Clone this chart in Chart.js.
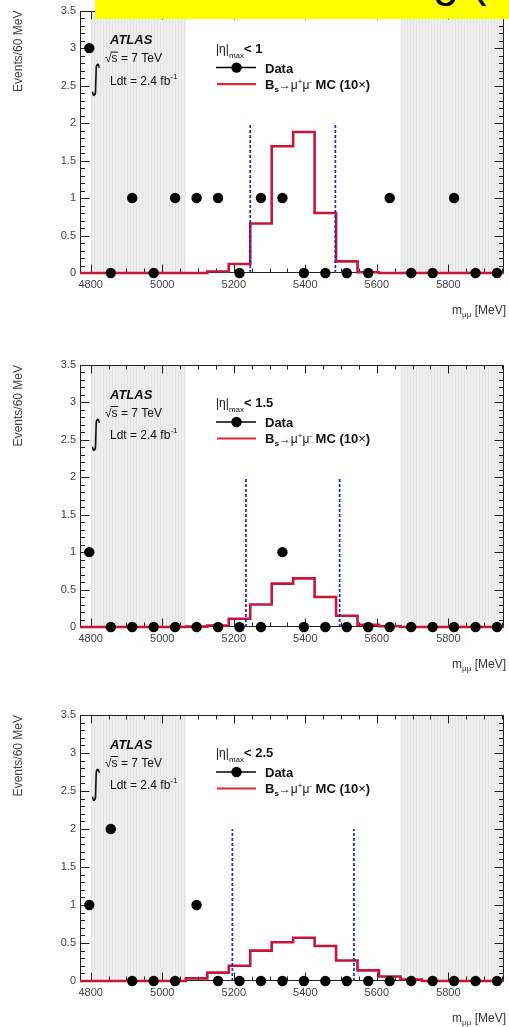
<!DOCTYPE html>
<html><head><meta charset="utf-8">
<script src="https://cdn.jsdelivr.net/npm/chart.js@4.4.1/dist/chart.umd.min.js"></script>
<style>
html,body{margin:0;padding:0;background:#fff;width:509px;height:1027px;overflow:hidden;position:relative}
.pane{position:absolute;left:0;width:509px}
#banner{position:absolute;left:95px;top:0;width:414px;height:19px;background:#ffff00;overflow:hidden;z-index:5}
#banner span{position:absolute;left:338px;top:-43px;font:46px 'Liberation Sans',Arial,sans-serif;line-height:46px;color:#000;white-space:pre}
</style></head><body>
<div id="banner"><span>g (</span></div>
<div class="pane" style="top:0;height:319px"><canvas id="c1"></canvas></div>
<div class="pane" style="top:340px;height:333px"><canvas id="c2"></canvas></div>
<div class="pane" style="top:690px;height:337px"><canvas id="c3"></canvas></div>
<script>
// ---- data ----
const binCenters = [4796,4856,4916,4976,5036,5096,5156,5216,5276,5336,5396,5456,5516,5576,5636,5696,5756,5816,5876,5936];
const binEdges   = [4766,4826,4886,4946,5006,5066,5126,5186,5246,5306,5366,5426,5486,5546,5606,5666,5726,5786,5846,5906,5966];
const data1 = [3,0,1,0,1,1,1,0,1,1,0,0,0,0,1,0,0,1,0,0];
const data2 = [1,0,0,0,0,0,0,0,0,1,0,0,0,0,0,0,0,0,0,0];
const data3 = [1,2,0,0,0,1,0,0,0,0,0,0,0,0,0,0,0,0,0,0];
const mc1 = [0,0,0,0,0,0,0.02,0.12,0.66,1.69,1.88,0.80,0.155,0.01,0,0,0,0,0,0];
const mc2 = [0,0,0,0,0,0.005,0.02,0.11,0.30,0.58,0.65,0.40,0.15,0.03,0.01,0,0,0,0,0];
const mc3 = [0,0,0,0,0,0.035,0.11,0.20,0.40,0.51,0.57,0.46,0.27,0.14,0.06,0.02,0,0,0,0];
const cuts1 = [5246,5484];
const cuts2 = [5234,5496];
const cuts3 = [5196,5536];
const cutHeight = 2;
const sidebands = [[4800,5066],[5666,5966]];
const etaCuts = ['1','1.5','2.5'];
const xTickValues = [4800,5000,5200,5400,5600,5800];
const yTickValues = [0,0.5,1,1.5,2,2.5,3,3.5];
const xRange = [4770,5955];
const yRange = [0,3.5];

const F = "'Liberation Sans', Arial, Helvetica, sans-serif";

function histPoints(vals){
  const pts = [];
  vals.forEach((v,i)=>{ pts.push({x:binEdges[i],y:v}); pts.push({x:binEdges[i+1],y:v}); });
  return pts;
}
function runs(ctx, x, y, parts, align){
  let w = 0;
  for (const p of parts){ ctx.font = p.f; w += ctx.measureText(p.t).width; }
  let cx = align === 'right' ? x - w : x;
  for (const p of parts){ ctx.font = p.f; ctx.fillText(p.t, cx, y + (p.dy||0)); cx += ctx.measureText(p.t).width; }
  return cx;
}

const panelPlugin = {
  id: 'panel',
  beforeDatasetsDraw(chart){
    const {ctx, chartArea:{left,right,top,bottom}, scales:{x,y}} = chart;
    ctx.save();
    ctx.beginPath(); ctx.rect(left, top, right-left, bottom-top); ctx.clip();
    for (const [a,b] of sidebands){
      const xa = x.getPixelForValue(a), xb = x.getPixelForValue(b);
      ctx.fillStyle = '#eeeeee'; ctx.fillRect(xa, top, xb-xa, bottom-top);
      ctx.strokeStyle = '#e4e4e4'; ctx.lineWidth = 1;
      ctx.beginPath();
      for (let px = Math.floor(xa)+1.5; px < xb; px += 3){ ctx.moveTo(px, top); ctx.lineTo(px, bottom); }
      ctx.stroke();
    }
    ctx.restore();
    ctx.save();
    ctx.strokeStyle = '#222'; ctx.lineWidth = 1;
    const L = Math.round(left)+0.5, R = Math.round(right)-0.5, T = Math.round(top)+0.5, B = Math.round(bottom)-0.5;
    ctx.strokeRect(L, T, R-L, B-T);
    ctx.beginPath();
    for (let k = 0; k <= 35; k++){
      const py = Math.round(y.getPixelForValue(k/10))+0.5;
      const len = (k % 5 === 0) ? 9 : 4.5;
      ctx.moveTo(L, py); ctx.lineTo(L+len, py);
      ctx.moveTo(R, py); ctx.lineTo(R-len, py);
    }
    for (let k = 0; k <= 30; k++){
      const v = 4750 + 50*k;
      if (v < xRange[0] || v > xRange[1]) continue;
      const px = Math.round(x.getPixelForValue(v))+0.5;
      const len = (v % 200 === 0) ? 8 : 4;
      ctx.moveTo(px, B); ctx.lineTo(px, B-len);
      ctx.moveTo(px, T); ctx.lineTo(px, T+len);
    }
    ctx.stroke();
    ctx.restore();
  },
  afterDatasetsDraw(chart, args, opts){
    const {ctx, chartArea:{top,bottom}} = chart;
    ctx.save();
    ctx.fillStyle = '#111';
    ctx.textBaseline = 'alphabetic';
    ctx.font = `italic bold 13px ${F}`;
    ctx.fillText('ATLAS', 110, top+33.5);
    ctx.font = `12px ${F}`;
    const rw = ctx.measureText('\u221A').width;
    ctx.fillText('\u221A', 105, top+51.5);
    ctx.fillText('s = 7 TeV', 105+rw, top+51.5);
    const sw = ctx.measureText('s').width;
    ctx.strokeStyle = '#111'; ctx.lineWidth = 1;
    ctx.beginPath(); ctx.moveTo(105+rw-1, top+41.5); ctx.lineTo(105+rw+sw+0.5, top+41.5); ctx.stroke();
    ctx.save();
    ctx.translate(96, top+70);
    ctx.scale(1, 1.7);
    ctx.font = `20px 'DejaVu Sans', sans-serif`;
    ctx.textAlign = 'center'; ctx.textBaseline = 'middle';
    ctx.fillText('\u222B', 0, 0);
    ctx.restore();
    runs(ctx, 110, top+74, [
      {t:'Ldt = 2.4 fb', f:`12px ${F}`},
      {t:'-1', f:`8px ${F}`, dy:-6}
    ]);
    runs(ctx, 216, top+42, [
      {t:'|\u03B7|', f:`12px ${F}`},
      {t:'max', f:`8px ${F}`, dy:5},
      {t:'< ' + opts.eta, f:`bold 13px ${F}`}
    ]);
    ctx.strokeStyle = '#000'; ctx.lineWidth = 1.5;
    ctx.beginPath(); ctx.moveTo(216, top+57); ctx.lineTo(256, top+57); ctx.stroke();
    ctx.fillStyle = '#000';
    ctx.beginPath(); ctx.arc(236.5, top+57, 5.2, 0, Math.PI*2); ctx.fill();
    ctx.fillStyle = '#111';
    ctx.font = `bold 13px ${F}`;
    ctx.fillText('Data', 265, top+62);
    ctx.strokeStyle = 'rgb(222,40,48)'; ctx.lineWidth = 2.2;
    ctx.beginPath(); ctx.moveTo(217, top+73.5); ctx.lineTo(256, top+73.5); ctx.stroke();
    runs(ctx, 265, top+78, [
      {t:'B', f:`bold 13px ${F}`},
      {t:'s', f:`bold 8px ${F}`, dy:3},
      {t:'\u2192\u03BC', f:`12px ${F}`},
      {t:'+', f:`8px ${F}`, dy:-5},
      {t:'\u03BC', f:`12px ${F}`},
      {t:'-', f:`8px ${F}`, dy:-5},
      {t:' MC (10', f:`bold 13px ${F}`},
      {t:'\u00D7', f:`13px ${F}`},
      {t:')', f:`bold 13px ${F}`}
    ]);
    ctx.fillStyle = '#333';
    runs(ctx, 506, bottom+41, [
      {t:'m', f:`12px ${F}`},
      {t:'\u03BC\u03BC', f:`8px ${F}`, dy:3},
      {t:' [MeV]', f:`12px ${F}`}
    ], 'right');
    ctx.restore();
  }
};

function makeChart(id, data, mc, cuts, eta, padTop){
  const cutDs = (c) => ({
    data:[{x:c,y:0},{x:c,y:cutHeight}], showLine:true, borderColor:'#2424c8', borderWidth:1.7,
    borderDash:[3,2], pointRadius:0, pointHoverRadius:0, order:1, clip:false
  });
  return new Chart(document.getElementById(id), {
    type:'scatter',
    data:{ datasets:[
      { label:'Data', data: binCenters.map((x,i)=>({x, y:data[i]})), showLine:false,
        pointRadius:5.2, pointHoverRadius:5.2, pointBackgroundColor:'#000', pointBorderColor:'#000',
        pointBorderWidth:0, order:0, clip:false },
      cutDs(cuts[0]), cutDs(cuts[1]),
      { label:'MC', data: histPoints(mc), showLine:true, borderColor:'rgb(200,22,58)', borderWidth:2.6,
        pointRadius:0, pointHoverRadius:0, tension:0, borderJoinStyle:'miter', order:2,
        clip:{left:0, right:0, top:0, bottom:3} }
    ]},
    options:{
      responsive:true, maintainAspectRatio:false, animation:false, events:[],
      layout:{padding:{top:padTop, right:5, left:0, bottom:0}},
      plugins:{ legend:{display:false}, tooltip:{enabled:false}, panel:{eta} },
      scales:{
        x:{ type:'linear', min:xRange[0], max:xRange[1],
            grid:{display:false, drawTicks:false}, border:{display:false},
            afterBuildTicks:s=>{ s.ticks = xTickValues.map(v=>({value:v})); },
            ticks:{ padding:5, color:'#444', maxRotation:0, autoSkip:false,
                    font:{family:F, size:11}, callback:v=>String(v) },
            afterFit:s=>{ s.height = 46; } },
        y:{ type:'linear', min:yRange[0], max:yRange[1],
            grid:{display:false, drawTicks:false}, border:{display:false},
            afterBuildTicks:s=>{ s.ticks = yTickValues.map(v=>({value:v})); },
            ticks:{ padding:4, color:'#444', font:{family:F, size:11}, callback:v=>String(v) },
            title:{ display:true, text:'Events/60 MeV', align:'end', color:'#444',
                    font:{family:F, size:12}, padding:{top:11, bottom:0} },
            afterFit:s=>{ s.width = 80; } }
      }
    },
    plugins:[panelPlugin]
  });
}

makeChart('c1', data1, mc1, cuts1, etaCuts[0], 10);
makeChart('c2', data2, mc2, cuts2, etaCuts[1], 25);
makeChart('c3', data3, mc3, cuts3, etaCuts[2], 25);
</script>
</body></html>
